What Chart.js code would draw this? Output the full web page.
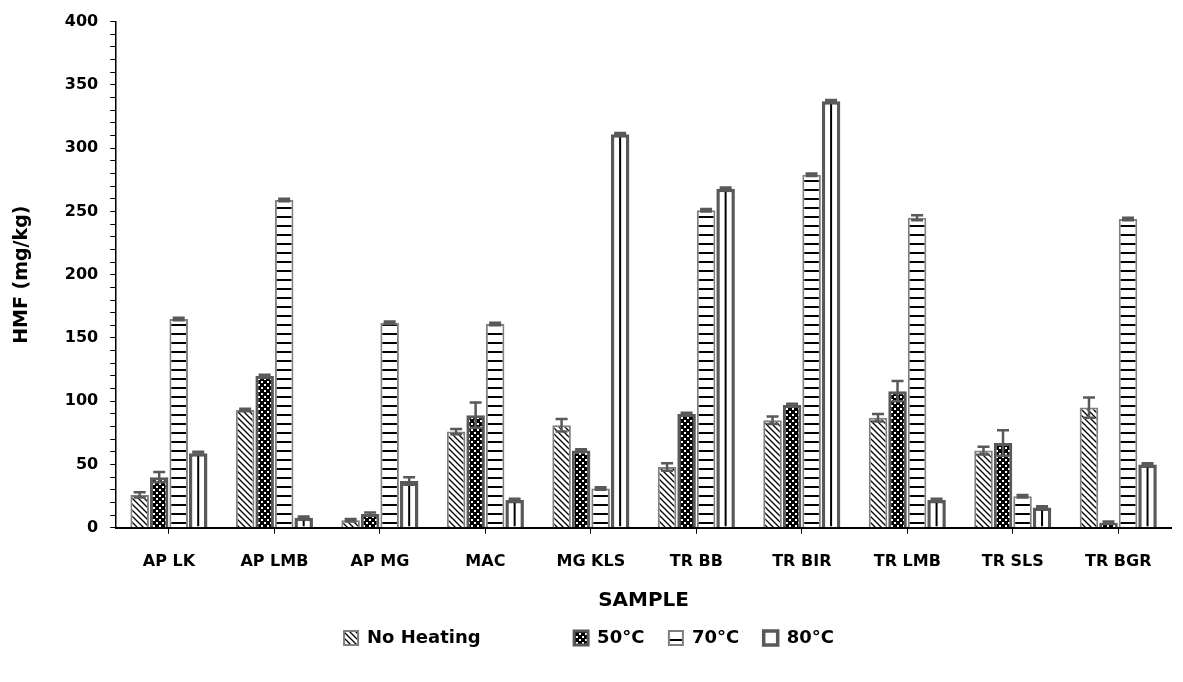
<!DOCTYPE html>
<html>
<head>
<meta charset="utf-8">
<script src="https://cdn.jsdelivr.net/npm/chart.js@4/dist/chart.umd.min.js"></script>
<style>
  body { margin: 0; background: #fff; }
  #wrap { width: 1183px; height: 682px; }
</style>
</head>
<body>
<div id="wrap"><canvas id="hmf-chart" width="1183" height="682"></canvas></div>
<script>
const samples = ['AP LK', 'AP LMB', 'AP MG', 'MAC', 'MG KLS', 'TR BB', 'TR BIR', 'TR LMB', 'TR SLS', 'TR BGR'];

const noHeating   = [26, 93, 6, 76, 81, 48, 85, 87, 61, 95];
const noHeatingSd = [2, 1, 1, 2, 5, 3, 3, 3, 3, 8];
const heat50      = [40, 120, 11, 89, 61, 90, 97, 108, 67, 4];
const heat50Sd    = [4, 1, 1, 10, 1, 1, 1, 8, 10, 1];
const heat70      = [165, 259, 162, 161, 31, 251, 279, 245, 25, 244];
const heat70Sd    = [1, 1, 1, 1, 1, 1, 1, 2, 1, 1];
const heat80      = [59, 8, 37, 22, 311, 268, 337, 22, 16, 50];
const heat80Sd    = [1, 1, 3, 1, 1, 1, 1, 1, 1, 1];

const yTicks = [0, 50, 100, 150, 200, 250, 300, 350, 400];

function makePattern(size, draw) {
    const c = document.createElement('canvas');
    c.width = size;
    c.height = size;
    const g = c.getContext('2d');
    g.fillStyle = '#fff';
    g.fillRect(0, 0, size, size);
    draw(g, size);
    return document.getElementById('hmf-chart').getContext('2d').createPattern(c, 'repeat');
}

// diagonal "\" hatching
const diagPattern = makePattern(6, (g, s) => {
    g.strokeStyle = '#000';
    g.lineWidth = 1.3;
    g.beginPath();
    g.moveTo(-1, -1); g.lineTo(s + 1, s + 1);
    g.moveTo(-1, s - 1); g.lineTo(1, s + 1);
    g.moveTo(s - 1, -1); g.lineTo(s + 1, 1);
    g.stroke();
});

// dark checker with small white dots
const checkPattern = makePattern(6, (g, s) => {
    g.fillStyle = '#000';
    g.fillRect(0, 0, s, s);
    g.fillStyle = '#fff';
    g.fillRect(0, 0, 2, 2);
    g.fillRect(3, 3, 2, 2);
});

// horizontal lines
const hLinePattern = makePattern(9, (g, s) => {
    g.fillStyle = '#000';
    g.fillRect(0, 0, s, 2);
});

const errorBars = {
    id: 'errorBars',
    afterDatasetsDraw(chart) {
        const ctx = chart.ctx;
        const y = chart.scales.y;
        chart.data.datasets.forEach((ds, di) => {
            const meta = chart.getDatasetMeta(di);
            if (meta.hidden) return;
            meta.data.forEach((bar, i) => {
                const v = ds.data[i];
                const e = ds.errors[i];
                const top = y.getPixelForValue(v + e);
                const bot = y.getPixelForValue(Math.max(0, v - e));
                const half = 6;
                ctx.save();
                ctx.strokeStyle = '#595959';
                ctx.lineWidth = 2.5;
                ctx.beginPath();
                ctx.moveTo(bar.x, top); ctx.lineTo(bar.x, bot);
                ctx.moveTo(bar.x - half, top); ctx.lineTo(bar.x + half, top);
                ctx.moveTo(bar.x - half, bot); ctx.lineTo(bar.x + half, bot);
                ctx.stroke();
                ctx.restore();
            });
        });
    }
};

// single vertical line down the middle of the 80°C bars
const centerLine = {
    id: 'centerLine',
    afterDatasetDraw(chart, args) {
        if (args.index !== 3) return;
        const ctx = chart.ctx;
        args.meta.data.forEach(bar => {
            ctx.save();
            ctx.strokeStyle = '#000';
            ctx.lineWidth = 2;
            ctx.beginPath();
            ctx.moveTo(bar.x, bar.y + 3);
            ctx.lineTo(bar.x, bar.base - 1);
            ctx.stroke();
            ctx.restore();
        });
    }
};

const font = "'DejaVu Sans', sans-serif";

// the original legend has a wide gap after "No Heating"
const legendGaps = ['             ', '  ', '  ', ''];

const config = {
    type: 'bar',
    data: {
        labels: samples,
        datasets: [
            { label: 'No Heating', data: noHeating, errors: noHeatingSd,
              backgroundColor: diagPattern, borderColor: '#808080', borderWidth: 2 },
            { label: '50°C', data: heat50, errors: heat50Sd,
              backgroundColor: checkPattern, borderColor: '#595959', borderWidth: 3 },
            { label: '70°C', data: heat70, errors: heat70Sd,
              backgroundColor: hLinePattern, borderColor: '#808080', borderWidth: 2 },
            { label: '80°C', data: heat80, errors: heat80Sd,
              backgroundColor: '#fff', borderColor: '#595959', borderWidth: 3.5 }
        ]
    },
    options: {
        responsive: false,
        animation: false,
        categoryPercentage: 0.74,
        barPercentage: 0.95,
        layout: { padding: { top: 10, right: 12, left: 7, bottom: 25 } },
        plugins: {
            tooltip: { enabled: false },
            legend: {
                position: 'bottom',
                labels: {
                    color: '#000',
                    font: { family: font, size: 18, weight: 'bold' },
                    boxWidth: 14,
                    boxHeight: 14,
                    padding: 12,
                    generateLabels(chart) {
                        const items = Chart.defaults.plugins.legend.labels.generateLabels(chart);
                        items.forEach((it, i) => { it.text = it.text + legendGaps[i]; });
                        return items;
                    }
                }
            }
        },
        scales: {
            x: {
                border: { color: '#000', width: 2 },
                grid: { drawOnChartArea: false, offset: false, color: '#000', tickLength: 6 },
                ticks: { color: '#000', font: { family: font, size: 16, weight: 'bold' }, padding: 18 },
                title: {
                    display: true, text: 'SAMPLE', color: '#000',
                    font: { family: font, size: 20, weight: 'bold' },
                    padding: { top: 0, bottom: 4 }
                }
            },
            y: {
                min: 0,
                max: 400,
                border: { color: '#000', width: 1.5 },
                grid: { drawOnChartArea: false, color: '#000', tickLength: 6 },
                ticks: {
                    stepSize: 10,
                    autoSkip: false,
                    color: '#000',
                    padding: 12,
                    font: { family: font, size: 16, weight: 'bold' },
                    callback: v => yTicks.includes(v) ? v : ''
                },
                title: {
                    display: true, text: 'HMF (mg/kg)', color: '#000',
                    font: { family: font, size: 19, weight: 'bold' },
                    padding: { bottom: 19 }
                }
            }
        }
    },
    plugins: [centerLine, errorBars]
};

const chart = new Chart(document.getElementById('hmf-chart'), config);
</script>
</body>
</html>
